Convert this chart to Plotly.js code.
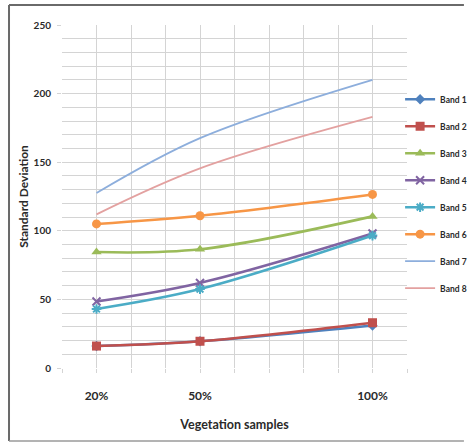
<!DOCTYPE html>
<html>
<head>
<meta charset="utf-8">
<script src="https://cdn.plot.ly/plotly-3.0.1.min.js"></script>
<style>
  html, body { margin: 0; padding: 0; background: #ffffff; }
  #chart { width: 468px; height: 443px; }
</style>
</head>
<body>
<div id="chart"></div>
<script>
// Sample sizes (percent of vegetation samples) and their tick labels
const samples = [20, 50, 100];
const sampleLabels = ['20%', '50%', '100%'];

// Standard deviation per spectral band
const band1 = [16, 19.5, 31];
const band2 = [16, 19.5, 33];
const band3 = [84.5, 86.5, 110.5];
const band4 = [48.5, 62, 98];
const band5 = [43, 57.5, 96.5];
const band6 = [105, 111, 126.5];
const band7 = [127.5, 167.5, 210];
const band8 = [112, 145.5, 183];

const bandNames = ['Band 1', 'Band 2', 'Band 3', 'Band 4', 'Band 5', 'Band 6', 'Band 7', 'Band 8'];

// Per-band styling: colour, marker symbol, marker size, line width
const styles = [
  { color: '#4F81BD', symbol: 'diamond', size: 8, width: 2.6 },
  { color: '#C0504D', symbol: 'square', size: 9, width: 2.6 },
  { color: '#9BBB59', symbol: 'triangle-up', size: 9, width: 2.6 },
  { color: '#8064A2', symbol: 'x-thin-open', size: 8, width: 2.6 },
  { color: '#4BACC6', symbol: 'asterisk-open', size: 8, width: 2.6 },
  { color: '#F79646', symbol: 'circle', size: 9, width: 2.6 },
  { color: '#8DAEDC', symbol: null, size: 0, width: 1.8 },
  { color: '#E3A1A0', symbol: null, size: 0, width: 1.8 }
];

const series = [band1, band2, band3, band4, band5, band6, band7, band8];

const traces = series.map((vals, i) => {
  const s = styles[i];
  const t = {
    type: 'scatter',
    x: samples,
    y: vals,
    name: bandNames[i],
    legendgroup: 'g' + i,
    mode: s.symbol ? 'lines+markers' : 'lines',
    line: { color: s.color, width: s.width, shape: 'spline', smoothing: 1 }
  };
  if (s.symbol) {
    const open = s.symbol.endsWith('-open');
    t.marker = {
      symbol: s.symbol,
      size: s.size,
      color: s.color,
      line: { color: s.color, width: open ? 2 : 0 }
    };
  }
  return t;
});

const gridColor = '#d4d4d4';
const textColor = '#2a2a2a';
const font = 'Lato, sans-serif';

// Frame lines around the chart (paper coordinates relative to the plot area)
const frame = { color: '#6a6a6a', width: 2 };
const shapes = [
  { type: 'line', xref: 'paper', yref: 'paper', x0: -0.1536, x1: 1.165, y0: 1.0583, y1: 1.0583, line: frame },
  { type: 'line', xref: 'paper', yref: 'paper', x0: -0.1536, x1: -0.1536, y0: 1.0583, y1: -0.2128, line: frame },
  { type: 'line', xref: 'paper', yref: 'paper', x0: -0.1536, x1: 1.165, y0: -0.2128, y1: -0.2128, line: { color: '#9a9a9a', width: 1.5 } }
];

const layout = {
  width: 468,
  height: 443,
  margin: { l: 62, r: 61, t: 25, b: 75, autoexpand: false },
  paper_bgcolor: '#ffffff',
  plot_bgcolor: '#ffffff',
  showlegend: true,
  font: { family: font, color: textColor },
  xaxis: {
    range: [10, 110],
    tickmode: 'array',
    tickvals: samples,
    ticktext: sampleLabels,
    showgrid: true,
    gridcolor: gridColor,
    gridwidth: 1,
    zeroline: false,
    showline: false,
    ticks: 'outside',
    ticklen: 4,
    tickcolor: gridColor,
    ticklabelstandoff: 13,
    tickfont: { family: font, size: 12, color: textColor, weight: 'bold' },
    minor: {
      tickmode: 'array',
      tickvals: [10, 30, 40, 60, 70, 80, 90, 110],
      showgrid: true,
      gridcolor: gridColor,
      gridwidth: 1,
      ticks: 'outside',
      ticklen: 4,
      tickcolor: gridColor
    },
    title: {
      text: 'Vegetation samples',
      standoff: 17,
      font: { family: font, size: 12.5, color: textColor, weight: 'bold' }
    },
    fixedrange: true
  },
  yaxis: {
    range: [0, 250],
    tickmode: 'linear',
    tick0: 0,
    dtick: 50,
    showgrid: true,
    gridcolor: gridColor,
    gridwidth: 1,
    zeroline: false,
    showline: false,
    ticks: 'outside',
    ticklen: 4,
    tickcolor: gridColor,
    ticklabelstandoff: 4,
    tickfont: { family: font, size: 10, color: textColor, weight: 'bold' },
    minor: {
      dtick: 10,
      showgrid: true,
      gridcolor: gridColor,
      gridwidth: 1,
      ticks: ''
    },
    title: {
      text: 'Standard Deviation',
      font: { family: font, size: 12, color: textColor, weight: 'bold' }
    },
    fixedrange: true
  },
  legend: {
    x: 0.98,
    xanchor: 'left',
    y: 0.826,
    yanchor: 'top',
    traceorder: 'grouped',
    tracegroupgap: 8,
    itemwidth: 30,
    bgcolor: 'rgba(0,0,0,0)',
    borderwidth: 0,
    font: { family: font, size: 8.5, color: textColor, weight: 'bold' }
  },
  shapes: shapes
};

Plotly.newPlot('chart', traces, layout, { displayModeBar: false, staticPlot: true });
</script>
</body>
</html>
